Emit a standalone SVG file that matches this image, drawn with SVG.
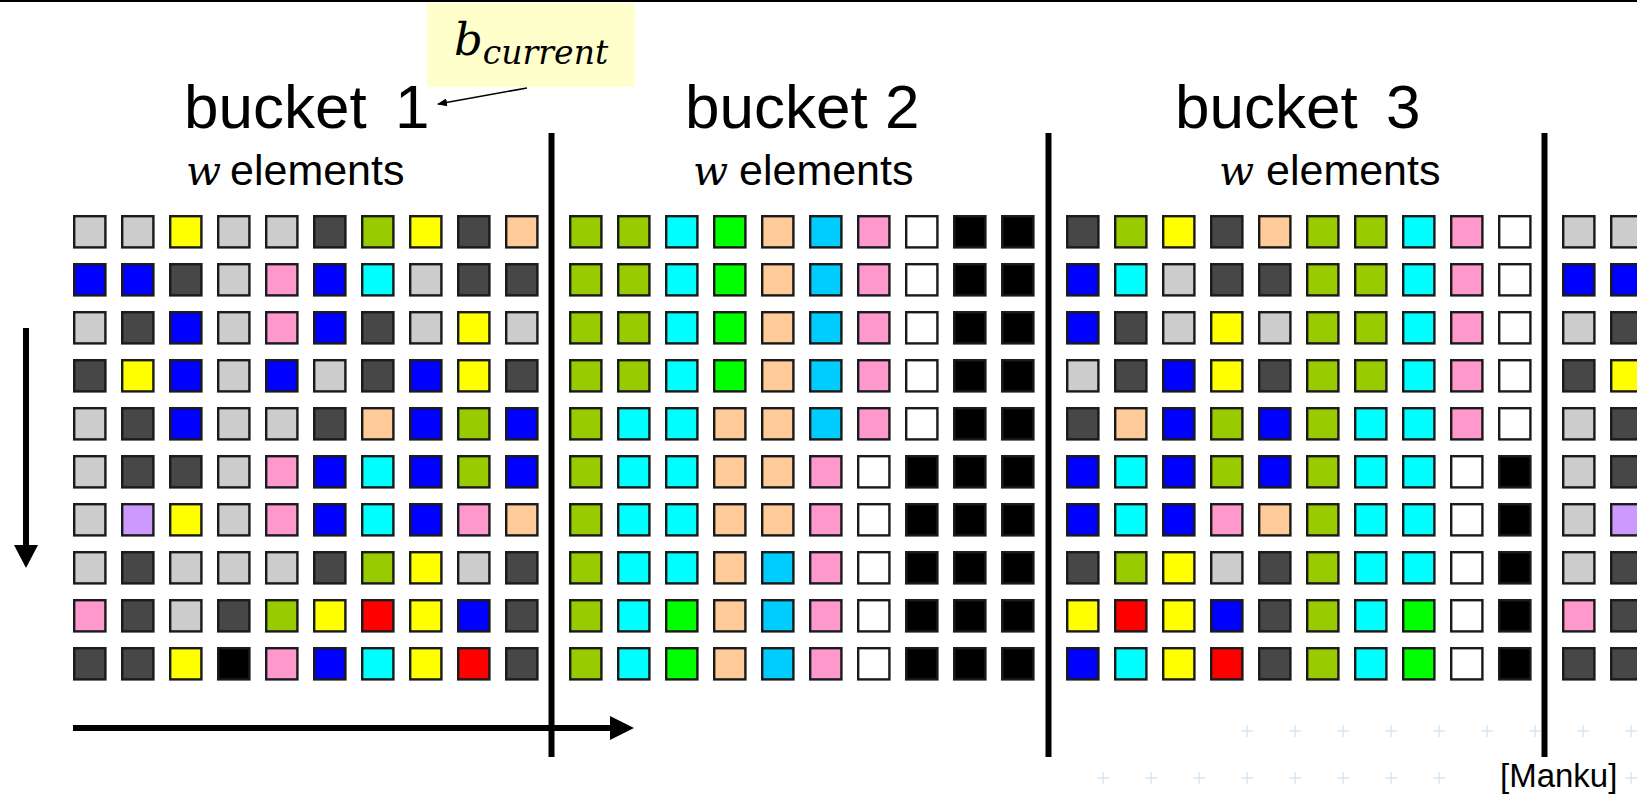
<svg xmlns="http://www.w3.org/2000/svg" xmlns:xlink="http://www.w3.org/1999/xlink" width="1637" height="795" viewBox="0 0 1637 795">
<style>
.cells use{stroke:#1a1a1a;stroke-width:2.4}
.L{fill:#cccccc}.D{fill:#474747}.Y{fill:#ffff00}.G{fill:#99cc00}.P{fill:#ffcc99}.B{fill:#0000ff}.K{fill:#ff99cc}.C{fill:#00ffff}.N{fill:#00ff00}.S{fill:#00ccff}.W{fill:#ffffff}.X{fill:#000000}.V{fill:#cc99ff}.R{fill:#ff0000}
.title{font-family:"Liberation Sans",Arial,sans-serif;font-size:62px;fill:#000}
.sub{font-family:"Liberation Sans",Arial,sans-serif;font-size:43px;fill:#000}
.math{font-family:"DejaVu Serif","Liberation Serif",serif;font-style:italic;fill:#000}
.div{stroke:#000;stroke-width:6}
.cross{stroke:#d8e6f2;stroke-width:1.5}
</style>
<defs>
<rect id="sq" x="1.2" y="1.2" width="31.2" height="31.2"/>
<marker id="ah" markerWidth="10" markerHeight="8" refX="9" refY="4" orient="auto" markerUnits="userSpaceOnUse"><path d="M0,0 L10,4 L0,8 Z" fill="#000"/></marker>
</defs>
<rect x="0" y="0" width="1637" height="795" fill="#fff"/>
<rect x="0" y="0" width="1637" height="2" fill="#000"/>

<g id="background-crosses">
<path class="cross" d="M1241,731h12M1247,725v12M1289,731h12M1295,725v12M1337,731h12M1343,725v12M1385,731h12M1391,725v12M1433,731h12M1439,725v12M1481,731h12M1487,725v12M1529,731h12M1535,725v12M1577,731h12M1583,725v12M1625,731h12M1631,725v12"/>
<path class="cross" d="M1097,778h12M1103,772v12M1145,778h12M1151,772v12M1193,778h12M1199,772v12M1241,778h12M1247,772v12M1289,778h12M1295,772v12M1337,778h12M1343,772v12M1385,778h12M1391,772v12M1433,778h12M1439,772v12M1625,778h12M1631,772v12"/>
</g>

<g id="bucket1">
<text class="title" x="184" y="128">bucket<tspan x="395">1</tspan></text>
<text x="186" y="185"><tspan class="math" font-size="41">w</tspan><tspan class="sub" x="230">elements</tspan></text>
<g class="cells" transform="translate(73,215)">
<g><use href="#sq" class="L"/><use href="#sq" x="48" class="L"/><use href="#sq" x="96" class="Y"/><use href="#sq" x="144" class="L"/><use href="#sq" x="192" class="L"/><use href="#sq" x="240" class="D"/><use href="#sq" x="288" class="G"/><use href="#sq" x="336" class="Y"/><use href="#sq" x="384" class="D"/><use href="#sq" x="432" class="P"/></g>
<g transform="translate(0,48)"><use href="#sq" class="B"/><use href="#sq" x="48" class="B"/><use href="#sq" x="96" class="D"/><use href="#sq" x="144" class="L"/><use href="#sq" x="192" class="K"/><use href="#sq" x="240" class="B"/><use href="#sq" x="288" class="C"/><use href="#sq" x="336" class="L"/><use href="#sq" x="384" class="D"/><use href="#sq" x="432" class="D"/></g>
<g transform="translate(0,96)"><use href="#sq" class="L"/><use href="#sq" x="48" class="D"/><use href="#sq" x="96" class="B"/><use href="#sq" x="144" class="L"/><use href="#sq" x="192" class="K"/><use href="#sq" x="240" class="B"/><use href="#sq" x="288" class="D"/><use href="#sq" x="336" class="L"/><use href="#sq" x="384" class="Y"/><use href="#sq" x="432" class="L"/></g>
<g transform="translate(0,144)"><use href="#sq" class="D"/><use href="#sq" x="48" class="Y"/><use href="#sq" x="96" class="B"/><use href="#sq" x="144" class="L"/><use href="#sq" x="192" class="B"/><use href="#sq" x="240" class="L"/><use href="#sq" x="288" class="D"/><use href="#sq" x="336" class="B"/><use href="#sq" x="384" class="Y"/><use href="#sq" x="432" class="D"/></g>
<g transform="translate(0,192)"><use href="#sq" class="L"/><use href="#sq" x="48" class="D"/><use href="#sq" x="96" class="B"/><use href="#sq" x="144" class="L"/><use href="#sq" x="192" class="L"/><use href="#sq" x="240" class="D"/><use href="#sq" x="288" class="P"/><use href="#sq" x="336" class="B"/><use href="#sq" x="384" class="G"/><use href="#sq" x="432" class="B"/></g>
<g transform="translate(0,240)"><use href="#sq" class="L"/><use href="#sq" x="48" class="D"/><use href="#sq" x="96" class="D"/><use href="#sq" x="144" class="L"/><use href="#sq" x="192" class="K"/><use href="#sq" x="240" class="B"/><use href="#sq" x="288" class="C"/><use href="#sq" x="336" class="B"/><use href="#sq" x="384" class="G"/><use href="#sq" x="432" class="B"/></g>
<g transform="translate(0,288)"><use href="#sq" class="L"/><use href="#sq" x="48" class="V"/><use href="#sq" x="96" class="Y"/><use href="#sq" x="144" class="L"/><use href="#sq" x="192" class="K"/><use href="#sq" x="240" class="B"/><use href="#sq" x="288" class="C"/><use href="#sq" x="336" class="B"/><use href="#sq" x="384" class="K"/><use href="#sq" x="432" class="P"/></g>
<g transform="translate(0,336)"><use href="#sq" class="L"/><use href="#sq" x="48" class="D"/><use href="#sq" x="96" class="L"/><use href="#sq" x="144" class="L"/><use href="#sq" x="192" class="L"/><use href="#sq" x="240" class="D"/><use href="#sq" x="288" class="G"/><use href="#sq" x="336" class="Y"/><use href="#sq" x="384" class="L"/><use href="#sq" x="432" class="D"/></g>
<g transform="translate(0,384)"><use href="#sq" class="K"/><use href="#sq" x="48" class="D"/><use href="#sq" x="96" class="L"/><use href="#sq" x="144" class="D"/><use href="#sq" x="192" class="G"/><use href="#sq" x="240" class="Y"/><use href="#sq" x="288" class="R"/><use href="#sq" x="336" class="Y"/><use href="#sq" x="384" class="B"/><use href="#sq" x="432" class="D"/></g>
<g transform="translate(0,432)"><use href="#sq" class="D"/><use href="#sq" x="48" class="D"/><use href="#sq" x="96" class="Y"/><use href="#sq" x="144" class="X"/><use href="#sq" x="192" class="K"/><use href="#sq" x="240" class="B"/><use href="#sq" x="288" class="C"/><use href="#sq" x="336" class="Y"/><use href="#sq" x="384" class="R"/><use href="#sq" x="432" class="D"/></g>
</g>
</g>

<g id="bucket2">
<text class="title" x="685" y="128">bucket 2</text>
<text x="693" y="185"><tspan class="math" font-size="41">w</tspan><tspan class="sub" x="739">elements</tspan></text>
<g class="cells" transform="translate(569,215)">
<g><use href="#sq" class="G"/><use href="#sq" x="48" class="G"/><use href="#sq" x="96" class="C"/><use href="#sq" x="144" class="N"/><use href="#sq" x="192" class="P"/><use href="#sq" x="240" class="S"/><use href="#sq" x="288" class="K"/><use href="#sq" x="336" class="W"/><use href="#sq" x="384" class="X"/><use href="#sq" x="432" class="X"/></g>
<g transform="translate(0,48)"><use href="#sq" class="G"/><use href="#sq" x="48" class="G"/><use href="#sq" x="96" class="C"/><use href="#sq" x="144" class="N"/><use href="#sq" x="192" class="P"/><use href="#sq" x="240" class="S"/><use href="#sq" x="288" class="K"/><use href="#sq" x="336" class="W"/><use href="#sq" x="384" class="X"/><use href="#sq" x="432" class="X"/></g>
<g transform="translate(0,96)"><use href="#sq" class="G"/><use href="#sq" x="48" class="G"/><use href="#sq" x="96" class="C"/><use href="#sq" x="144" class="N"/><use href="#sq" x="192" class="P"/><use href="#sq" x="240" class="S"/><use href="#sq" x="288" class="K"/><use href="#sq" x="336" class="W"/><use href="#sq" x="384" class="X"/><use href="#sq" x="432" class="X"/></g>
<g transform="translate(0,144)"><use href="#sq" class="G"/><use href="#sq" x="48" class="G"/><use href="#sq" x="96" class="C"/><use href="#sq" x="144" class="N"/><use href="#sq" x="192" class="P"/><use href="#sq" x="240" class="S"/><use href="#sq" x="288" class="K"/><use href="#sq" x="336" class="W"/><use href="#sq" x="384" class="X"/><use href="#sq" x="432" class="X"/></g>
<g transform="translate(0,192)"><use href="#sq" class="G"/><use href="#sq" x="48" class="C"/><use href="#sq" x="96" class="C"/><use href="#sq" x="144" class="P"/><use href="#sq" x="192" class="P"/><use href="#sq" x="240" class="S"/><use href="#sq" x="288" class="K"/><use href="#sq" x="336" class="W"/><use href="#sq" x="384" class="X"/><use href="#sq" x="432" class="X"/></g>
<g transform="translate(0,240)"><use href="#sq" class="G"/><use href="#sq" x="48" class="C"/><use href="#sq" x="96" class="C"/><use href="#sq" x="144" class="P"/><use href="#sq" x="192" class="P"/><use href="#sq" x="240" class="K"/><use href="#sq" x="288" class="W"/><use href="#sq" x="336" class="X"/><use href="#sq" x="384" class="X"/><use href="#sq" x="432" class="X"/></g>
<g transform="translate(0,288)"><use href="#sq" class="G"/><use href="#sq" x="48" class="C"/><use href="#sq" x="96" class="C"/><use href="#sq" x="144" class="P"/><use href="#sq" x="192" class="P"/><use href="#sq" x="240" class="K"/><use href="#sq" x="288" class="W"/><use href="#sq" x="336" class="X"/><use href="#sq" x="384" class="X"/><use href="#sq" x="432" class="X"/></g>
<g transform="translate(0,336)"><use href="#sq" class="G"/><use href="#sq" x="48" class="C"/><use href="#sq" x="96" class="C"/><use href="#sq" x="144" class="P"/><use href="#sq" x="192" class="S"/><use href="#sq" x="240" class="K"/><use href="#sq" x="288" class="W"/><use href="#sq" x="336" class="X"/><use href="#sq" x="384" class="X"/><use href="#sq" x="432" class="X"/></g>
<g transform="translate(0,384)"><use href="#sq" class="G"/><use href="#sq" x="48" class="C"/><use href="#sq" x="96" class="N"/><use href="#sq" x="144" class="P"/><use href="#sq" x="192" class="S"/><use href="#sq" x="240" class="K"/><use href="#sq" x="288" class="W"/><use href="#sq" x="336" class="X"/><use href="#sq" x="384" class="X"/><use href="#sq" x="432" class="X"/></g>
<g transform="translate(0,432)"><use href="#sq" class="G"/><use href="#sq" x="48" class="C"/><use href="#sq" x="96" class="N"/><use href="#sq" x="144" class="P"/><use href="#sq" x="192" class="S"/><use href="#sq" x="240" class="K"/><use href="#sq" x="288" class="W"/><use href="#sq" x="336" class="X"/><use href="#sq" x="384" class="X"/><use href="#sq" x="432" class="X"/></g>
</g>
</g>

<g id="bucket3">
<text class="title" x="1175" y="128">bucket<tspan x="1386">3</tspan></text>
<text x="1219" y="185"><tspan class="math" font-size="41">w</tspan><tspan class="sub" x="1266">elements</tspan></text>
<g class="cells" transform="translate(1066,215)">
<g><use href="#sq" class="D"/><use href="#sq" x="48" class="G"/><use href="#sq" x="96" class="Y"/><use href="#sq" x="144" class="D"/><use href="#sq" x="192" class="P"/><use href="#sq" x="240" class="G"/><use href="#sq" x="288" class="G"/><use href="#sq" x="336" class="C"/><use href="#sq" x="384" class="K"/><use href="#sq" x="432" class="W"/></g>
<g transform="translate(0,48)"><use href="#sq" class="B"/><use href="#sq" x="48" class="C"/><use href="#sq" x="96" class="L"/><use href="#sq" x="144" class="D"/><use href="#sq" x="192" class="D"/><use href="#sq" x="240" class="G"/><use href="#sq" x="288" class="G"/><use href="#sq" x="336" class="C"/><use href="#sq" x="384" class="K"/><use href="#sq" x="432" class="W"/></g>
<g transform="translate(0,96)"><use href="#sq" class="B"/><use href="#sq" x="48" class="D"/><use href="#sq" x="96" class="L"/><use href="#sq" x="144" class="Y"/><use href="#sq" x="192" class="L"/><use href="#sq" x="240" class="G"/><use href="#sq" x="288" class="G"/><use href="#sq" x="336" class="C"/><use href="#sq" x="384" class="K"/><use href="#sq" x="432" class="W"/></g>
<g transform="translate(0,144)"><use href="#sq" class="L"/><use href="#sq" x="48" class="D"/><use href="#sq" x="96" class="B"/><use href="#sq" x="144" class="Y"/><use href="#sq" x="192" class="D"/><use href="#sq" x="240" class="G"/><use href="#sq" x="288" class="G"/><use href="#sq" x="336" class="C"/><use href="#sq" x="384" class="K"/><use href="#sq" x="432" class="W"/></g>
<g transform="translate(0,192)"><use href="#sq" class="D"/><use href="#sq" x="48" class="P"/><use href="#sq" x="96" class="B"/><use href="#sq" x="144" class="G"/><use href="#sq" x="192" class="B"/><use href="#sq" x="240" class="G"/><use href="#sq" x="288" class="C"/><use href="#sq" x="336" class="C"/><use href="#sq" x="384" class="K"/><use href="#sq" x="432" class="W"/></g>
<g transform="translate(0,240)"><use href="#sq" class="B"/><use href="#sq" x="48" class="C"/><use href="#sq" x="96" class="B"/><use href="#sq" x="144" class="G"/><use href="#sq" x="192" class="B"/><use href="#sq" x="240" class="G"/><use href="#sq" x="288" class="C"/><use href="#sq" x="336" class="C"/><use href="#sq" x="384" class="W"/><use href="#sq" x="432" class="X"/></g>
<g transform="translate(0,288)"><use href="#sq" class="B"/><use href="#sq" x="48" class="C"/><use href="#sq" x="96" class="B"/><use href="#sq" x="144" class="K"/><use href="#sq" x="192" class="P"/><use href="#sq" x="240" class="G"/><use href="#sq" x="288" class="C"/><use href="#sq" x="336" class="C"/><use href="#sq" x="384" class="W"/><use href="#sq" x="432" class="X"/></g>
<g transform="translate(0,336)"><use href="#sq" class="D"/><use href="#sq" x="48" class="G"/><use href="#sq" x="96" class="Y"/><use href="#sq" x="144" class="L"/><use href="#sq" x="192" class="D"/><use href="#sq" x="240" class="G"/><use href="#sq" x="288" class="C"/><use href="#sq" x="336" class="C"/><use href="#sq" x="384" class="W"/><use href="#sq" x="432" class="X"/></g>
<g transform="translate(0,384)"><use href="#sq" class="Y"/><use href="#sq" x="48" class="R"/><use href="#sq" x="96" class="Y"/><use href="#sq" x="144" class="B"/><use href="#sq" x="192" class="D"/><use href="#sq" x="240" class="G"/><use href="#sq" x="288" class="C"/><use href="#sq" x="336" class="N"/><use href="#sq" x="384" class="W"/><use href="#sq" x="432" class="X"/></g>
<g transform="translate(0,432)"><use href="#sq" class="B"/><use href="#sq" x="48" class="C"/><use href="#sq" x="96" class="Y"/><use href="#sq" x="144" class="R"/><use href="#sq" x="192" class="D"/><use href="#sq" x="240" class="G"/><use href="#sq" x="288" class="C"/><use href="#sq" x="336" class="N"/><use href="#sq" x="384" class="W"/><use href="#sq" x="432" class="X"/></g>
</g>
</g>

<g id="bucket4">
<g class="cells" transform="translate(1562,215)">
<g><use href="#sq" class="L"/><use href="#sq" x="48" class="L"/></g>
<g transform="translate(0,48)"><use href="#sq" class="B"/><use href="#sq" x="48" class="B"/></g>
<g transform="translate(0,96)"><use href="#sq" class="L"/><use href="#sq" x="48" class="D"/></g>
<g transform="translate(0,144)"><use href="#sq" class="D"/><use href="#sq" x="48" class="Y"/></g>
<g transform="translate(0,192)"><use href="#sq" class="L"/><use href="#sq" x="48" class="D"/></g>
<g transform="translate(0,240)"><use href="#sq" class="L"/><use href="#sq" x="48" class="D"/></g>
<g transform="translate(0,288)"><use href="#sq" class="L"/><use href="#sq" x="48" class="V"/></g>
<g transform="translate(0,336)"><use href="#sq" class="L"/><use href="#sq" x="48" class="D"/></g>
<g transform="translate(0,384)"><use href="#sq" class="K"/><use href="#sq" x="48" class="D"/></g>
<g transform="translate(0,432)"><use href="#sq" class="D"/><use href="#sq" x="48" class="D"/></g>
</g>
</g>

<g id="b-current">
<rect x="427" y="3" width="208" height="84" fill="#ffffcc"/>
<text x="454" y="55"><tspan class="math" font-size="45">b</tspan><tspan class="math" font-size="33" dy="9">current</tspan></text>
</g>

<g id="connectors">
<line class="div" x1="551.5" y1="133" x2="551.5" y2="757"/>
<line class="div" x1="1048.5" y1="133" x2="1048.5" y2="757"/>
<line class="div" x1="1544.5" y1="133" x2="1544.5" y2="757"/>
<line x1="527" y1="88" x2="438" y2="104" stroke="#000" stroke-width="1.6" marker-end="url(#ah)"/>
<line x1="26" y1="328" x2="26" y2="546" stroke="#000" stroke-width="6"/>
<polygon points="14,545 38,545 26,568" fill="#000"/>
<line x1="73" y1="728" x2="611" y2="728" stroke="#000" stroke-width="6"/>
<polygon points="610,716 610,740 634,728" fill="#000"/>
</g>

<text x="1500" y="787" font-family="Liberation Sans,Arial,sans-serif" font-size="33" fill="#000">[Manku]</text>
</svg>
